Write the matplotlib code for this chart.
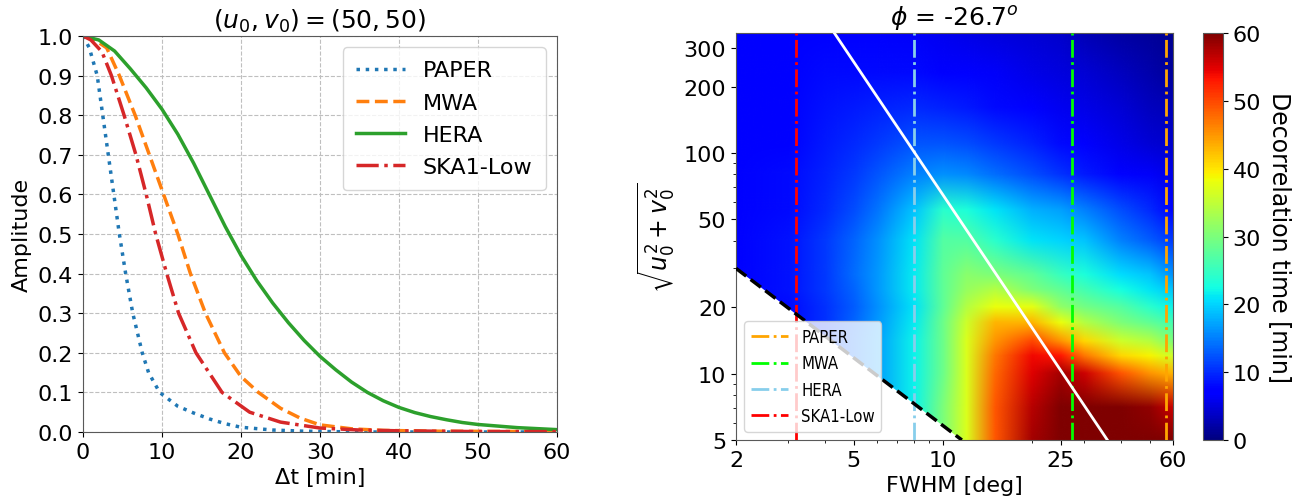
import numpy as np
import matplotlib
matplotlib.use('Agg')
import matplotlib.pyplot as plt
from matplotlib.image import NonUniformImage
from matplotlib.colors import Normalize
from matplotlib.ticker import FixedLocator, NullFormatter

# ---- left panel: amplitude vs time lag ----
t_paper = [0, 0.8, 1.8, 2.5, 3.2, 3.9, 4.6, 5.4, 6.3, 7.5, 8.3, 9.7, 12, 14, 16, 18, 20, 24, 28, 35, 60]
amp_paper = [1.0, 0.97, 0.9, 0.8, 0.7, 0.6, 0.5, 0.4, 0.3, 0.2, 0.15, 0.1, 0.065, 0.048,
             0.033, 0.021, 0.012, 0.005, 0.002, 0.0, 0.0]
t_mwa = [0, 1.5, 3, 4.6, 6.6, 8.4, 10.2, 12.0, 13.6, 15.5, 17.9, 20, 22.2, 25, 27.5, 30, 34, 38, 45, 60]
amp_mwa = [1.0, 0.99, 0.97, 0.9, 0.8, 0.7, 0.6, 0.5, 0.4, 0.3, 0.2, 0.14, 0.1, 0.06, 0.035,
           0.018, 0.008, 0.004, 0.002, 0.001]
t_hera = [0, 2, 4, 6, 8, 10, 12, 14, 16, 18, 20, 22, 24, 26, 28, 30, 32, 34, 36, 38, 40,
          42, 44, 46, 48, 50, 55, 60]
amp_hera = [1.0, 0.990, 0.962, 0.917, 0.869, 0.815, 0.752, 0.679, 0.599, 0.519, 0.446,
            0.382, 0.326, 0.276, 0.231, 0.191, 0.157, 0.126, 0.100, 0.079, 0.062,
            0.049, 0.039, 0.031, 0.024, 0.019, 0.011, 0.006]
t_ska = [0, 1, 2.4, 3.6, 5.2, 6.7, 8.0, 9.2, 10.6, 12.1, 14.3, 17.6, 21.1, 25, 30, 35, 40, 50, 60]
amp_ska = [1.0, 0.99, 0.96, 0.9, 0.8, 0.7, 0.6, 0.5, 0.4, 0.3, 0.2, 0.1, 0.05, 0.025, 0.01,
           0.005, 0.003, 0.001, 0.001]

# ---- right panel: decorrelation time map (minutes) ----
fwhm = [2, 3, 4, 5, 6, 8, 10, 12, 15, 20, 25, 30, 40, 50, 60]
baseline = [5, 7, 10, 12, 14, 17, 20, 24, 28, 40, 55, 80, 110, 160, 230, 350]
nan = np.nan
t_dec = [
    [nan, nan, nan, nan, nan, nan, nan, 37, 49, 58, 62, 63, 62, 62, 61],
    [nan, nan, nan, nan, nan, nan, 30, 37, 49, 57, 61, 62, 61, 59, 56],
    [nan, nan, nan, nan, 17, 22, 29, 37, 48, 55, 58, 56, 49, 45, 43],
    [nan, nan, nan, 14, 17, 22, 29, 37, 47, 54, 53, 47, 41, 39, 36],
    [nan, nan, nan, 14, 17, 22, 29, 37, 45, 50, 45, 41, 36, 34, 30],
    [nan, nan, 10.5, 13.5, 16.5, 21.5, 29, 36, 43, 43, 38, 34, 30, 28, 26],
    [nan, 8, 10.5, 13, 16, 21, 28, 34, 38, 37.5, 31.5, 29.5, 27, 24, 22],
    [nan, 8.5, 11, 13.5, 16.5, 21.5, 28, 32, 34, 30, 28, 26, 22.5, 21, 19],
    [7, 8.5, 11, 14, 16.5, 21.5, 28, 31, 30, 28, 25, 23, 20.5, 19, 16],
    [7, 8.5, 11, 13.5, 16, 21, 27, 27, 24, 21, 20, 19, 15, 13, 11],
    [7, 8, 10, 12, 14.5, 19, 24, 23, 21, 18, 17, 15, 12, 10, 7.5],
    [7, 8, 9.5, 11, 12.5, 15, 16, 15.5, 14, 12, 10.5, 9, 7.5, 6.5, 5.5],
    [7, 7.5, 9, 10, 11, 12.5, 12.5, 12, 11, 9.5, 8, 7, 5.5, 4.5, 4],
    [7, 7.5, 8.5, 9, 9.5, 10, 9.5, 9, 8, 7, 6, 5.5, 4.5, 3.5, 3],
    [7, 7.5, 8, 8, 8, 8, 7.5, 7, 6.5, 5.5, 5, 4.5, 3.5, 2.5, 1.5],
    [7, 7, 7, 7, 7, 6.5, 6, 5.5, 5, 4.5, 4, 3, 2, 1.5, 1],
]
cut_fwhm = [2, 11.6]      # black dashed limit
cut_base = [30, 5]
far_fwhm = [4.3, 36]      # white line
far_base = [350, 5]
tel_names = ['PAPER', 'MWA', 'HERA', 'SKA1-Low']
tel_fwhm = [56.6, 27.4, 8.0, 3.18]
tel_colors = ['orange', 'lime', 'skyblue', 'red']

fig = plt.figure(figsize=(13.12, 5.02), dpi=100)

# left
ax1 = fig.add_axes([83 / 1312, 69 / 502, 474 / 1312, 396 / 502])
ax1.plot(t_paper, amp_paper, ':', color='tab:blue', lw=2.5, label='PAPER')
ax1.plot(t_mwa, amp_mwa, '--', color='tab:orange', lw=2.5, label='MWA')
ax1.plot(t_hera, amp_hera, '-', color='tab:green', lw=2.5, label='HERA')
ax1.plot(t_ska, amp_ska, '-.', color='tab:red', lw=2.5, label='SKA1-Low')
ax1.set_xlim(0, 60)
ax1.set_ylim(0, 1)
ax1.set_xticks(range(0, 61, 10))
ax1.set_yticks(np.arange(0, 1.01, 0.1))
ax1.grid(True, ls='--', color='0.75', lw=0.8)
ax1.tick_params(labelsize=16)
ax1.set_xlabel('Δt [min]', fontsize=16)
ax1.set_ylabel('Amplitude', fontsize=16)
ax1.set_title('$(u_0, v_0) = (50, 50)$', fontsize=18)
ax1.legend(loc='upper right', fontsize=16, handlelength=2.2, borderpad=0.6,
           labelspacing=0.55)
for s in ax1.spines.values():
    s.set_color('0.35')

# right
pos2 = [736 / 1312, 61 / 502, 437 / 1312, 407 / 502]
ax2 = fig.add_axes(pos2, zorder=1)
ax2.patch.set_alpha(0)

Z = np.array(t_dec, dtype=float)
# pad hidden (white) nodes with the value just above them
for j in range(Z.shape[1]):
    col = Z[:, j]
    good = np.where(~np.isnan(col))[0]
    col[:good[0]] = col[good[0]]
lx, ly = np.log10(fwhm), np.log10(baseline)
lxp = np.r_[lx[0] - 0.1, lx, lx[-1] + 0.1]
lyp = np.r_[ly[0] - 0.1, ly, ly[-1] + 0.1]
Zp = np.pad(Z, 1, mode='edge')

# smooth map drawn in log10 coordinates on a slightly taller axes underneath,
# then clipped to the log axes frame
extra = 12 / 502
axb = fig.add_axes([pos2[0], pos2[1], pos2[2], pos2[3] + extra], zorder=0)
im = NonUniformImage(axb, interpolation='bilinear', cmap='jet',
                     norm=Normalize(0, 60),
                     extent=(lxp[0], lxp[-1], lyp[0], lyp[-1]))
im.set_data(lxp, lyp, Zp)
axb.add_image(im)
axb.set_xlim(lx[0], lx[-1])
axb.set_ylim(ly[0], ly[-1] + (ly[-1] - ly[0]) * extra / pos2[3])
axb.axis('off')
im.set_clip_path(ax2.patch)

ax2.fill_between(cut_fwhm, [5, 5], cut_base, color='white', lw=0, zorder=2)
for name, fx, c in zip(tel_names, tel_fwhm, tel_colors):
    ax2.axvline(fx, color=c, ls='-.', lw=2, label=name, zorder=3)
ax2.plot(far_fwhm, far_base, color='white', lw=2, zorder=4)
ax2.plot(cut_fwhm, cut_base, color='black', ls='--', lw=2.5, zorder=4)
ax2.set_xscale('log')
ax2.set_yscale('log')
ax2.set_xlim(2, 60)
ax2.set_ylim(5, 350)
ax2.xaxis.set_major_locator(FixedLocator([2, 5, 10, 25, 60]))
ax2.xaxis.set_major_formatter(plt.FuncFormatter(lambda v, p: '%g' % v))
ax2.xaxis.set_minor_formatter(NullFormatter())
ax2.yaxis.set_major_locator(FixedLocator([5, 10, 20, 50, 100, 200, 300]))
ax2.yaxis.set_major_formatter(plt.FuncFormatter(lambda v, p: '%g' % v))
ax2.yaxis.set_minor_formatter(NullFormatter())
ax2.tick_params(labelsize=16)
ax2.set_xlabel('FWHM [deg]', fontsize=16)
ax2.set_ylabel(r'$\sqrt{u_0^2 + v_0^2}$', fontsize=17)
ax2.set_title(r'$\phi$ = -26.7$^o$', fontsize=18)
ax2.legend(loc='lower left', prop={'size': 12, 'stretch': 'condensed'},
           framealpha=0.8, handlelength=2.2)
for s in ax2.spines.values():
    s.set_color('0.35')

cax = fig.add_axes([1203 / 1312, 61 / 502, 20 / 1312, 407 / 502])
cb = fig.colorbar(im, cax=cax, ticks=range(0, 61, 10))
cb.ax.tick_params(labelsize=16)
cb.set_label('Decorrelation time [min]', fontsize=17, rotation=270, labelpad=22)
cb.outline.set_edgecolor('0.35')

fig.savefig('out.png', dpi=100)
